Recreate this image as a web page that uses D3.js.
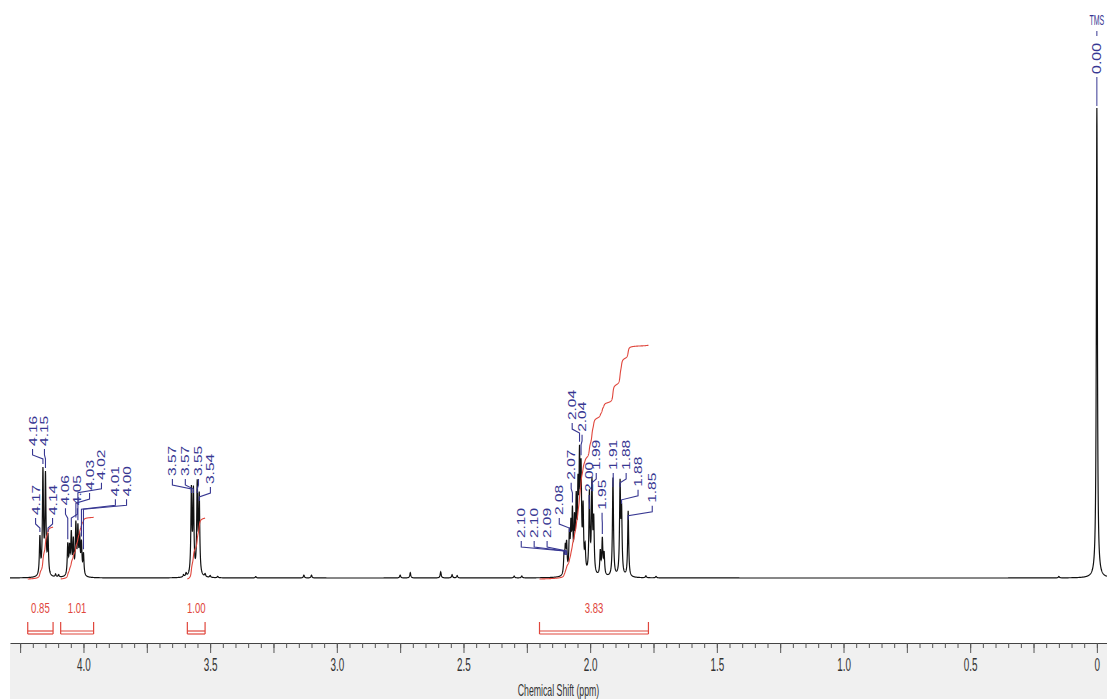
<!DOCTYPE html>
<html>
<head>
<script src="https://cdnjs.cloudflare.com/ajax/libs/d3/7.8.5/d3.min.js"></script>
<style>
	body { margin: 0; background: #fff; }
	text { font-family: "Liberation Sans", Arial, sans-serif; }
</style>
</head>
<body>
<script>

	var width = 1107, height = 699;

	// peak list: shift (ppm) and height (TMS = 100)
	var peakPpm = [4.172, 4.160, 4.150, 4.140, 4.110, 4.098,
		4.062, 4.055, 4.048, 4.040, 4.030, 4.022, 4.015, 4.008, 4.000,
		3.605, 3.595, 3.574, 3.566, 3.551, 3.543, 3.520, 3.500, 3.470,
		3.320, 3.130, 3.100, 2.750, 2.710, 2.590, 2.545, 2.525, 2.300, 2.270,
		2.103, 2.098, 2.093, 2.082, 2.076, 2.070, 2.062, 2.055, 2.048, 2.042, 2.036, 2.028, 2.020,
		2.003, 1.993, 1.986, 1.960, 1.952, 1.945, 1.910, 1.882, 1.876, 1.850,
		1.780, 1.740, 0.150, 0.000];
	var peakHeight = [8, 22, 21, 8, 0.6, 0.5,
		6.5, 5.5, 8.5, 7, 10.5, 9.5, 7.5, 6.5, 4.5,
		0.5, 0.7, 18, 17.5, 19, 16.5, 0.6, 0.4, 0.3,
		0.3, 0.6, 0.6, 0.6, 1.1, 1.3, 0.7, 0.5, 0.4, 0.4,
		4, 5, 6, 8, 9, 12, 10, 14, 16, 22, 20, 13, 5,
		17, 19, 11, 5, 7.5, 4.5, 21, 19, 13, 14,
		0.4, 0.3, 0.3, 100];

	// peak picking labels
	var labelText = ['4.17', '4.16', '4.15', '4.14', '4.06', '4.05', '4.03', '4.02', '4.01', '4.00',
		'3.57', '3.57', '3.55', '3.54',
		'2.10', '2.10', '2.09', '2.08', '2.07', '2.04', '2.04', '2.00', '1.99', '1.95', '1.91', '1.88', '1.88', '1.85'];
	var labelPeak = [4.172, 4.160, 4.150, 4.140, 4.062, 4.048, 4.030, 4.022, 4.008, 4.000,
		3.574, 3.566, 3.551, 3.543,
		2.103, 2.098, 2.093, 2.082, 2.070, 2.042, 2.036, 2.003, 1.993, 1.952, 1.910, 1.882, 1.876, 1.850];
	// where the label text stands (ppm, height of its foot)
	var labelPpm = [4.189, 4.201, 4.154, 4.122, 4.071, 4.024, 3.976, 3.929, 3.874, 3.830,
		3.649, 3.598, 3.546, 3.499,
		2.272, 2.221, 2.170, 2.122, 2.075, 2.071, 2.032, 2.004, 1.976, 1.953, 1.909, 1.858, 1.811, 1.755];
	var labelLevel = [13.4, 28.1, 28.1, 13.4, 15.5, 15.5, 18.7, 20.9, 17.4, 17.4,
		21.7, 21.7, 21.7, 20.0,
		8.5, 8.5, 8.5, 13.4, 20.9, 33.6, 31.1, 18.3, 23.0, 14.5, 23.0, 23.0, 19.4, 16.0];

	// integrals
	var integralFrom  = [4.22, 4.09, 3.59, 2.20];
	var integralTo    = [4.12, 3.96, 3.52, 1.77];
	var integralValue = [0.85, 1.01, 1.00, 3.83];

	// axis
	var majorTicks = [4.25, 4.0, 3.75, 3.5, 3.25, 3.0, 2.75, 2.5, 2.25, 2.0, 1.75, 1.5, 1.25, 1.0, 0.75, 0.5, 0.25, 0];
	var tickLabelValues = [4.0, 3.5, 3.0, 2.5, 2.0, 1.5, 1.0, 0.5, 0];
	var tickLabels = ['4.0', '3.5', '3.0', '2.5', '2.0', '1.5', '1.0', '0.5', '0'];

	/* ---------------------------------------------------------------- */

	var blue = '#373792', red = '#e0463c';
	var axisY = 643;

	var svg = d3.select('body').append('svg')
		.attr('width', width)
		.attr('height', height)
		.style('background-color', 'white');

	var x = d3.scaleLinear().domain([4.29, -0.04]).range([10, 1107]);
	var y = d3.scaleLinear().domain([0, 100]).range([578, 108]);
	var yInt = d3.scaleLinear().domain([0, 1]).range([0, 61]);

	var gamma = 0.0024;
	function intensity(p) {
		var s = 0;
		for (var i = 0; i < peakPpm.length; i++) {
			var d = (p - peakPpm[i]) / gamma;
			s += peakHeight[i] / (1 + d * d);
		}
		return s;
	}

	var spectrum = d3.range(4.29, -0.04, -0.0005).map(function(p) {
		return [p, intensity(p)];
	});

	// grey band under the axis
	svg.append('rect')
		.attr('x', 10).attr('y', axisY)
		.attr('width', width - 10).attr('height', height - axisY)
		.attr('fill', '#f0f0f0');

	// spectrum
	var line = d3.line()
		.x(function(d) { return x(d[0]); })
		.y(function(d) { return y(d[1]); });

	svg.append('path')
		.datum(spectrum)
		.attr('d', line)
		.attr('fill', 'none')
		.attr('stroke', '#111')
		.attr('stroke-width', 1.2);

	// integral curves and brackets
	integralValue.forEach(function(v, k) {
		var pts = spectrum.filter(function(d) {
			return d[0] <= integralFrom[k] && d[0] >= integralTo[k];
		});
		var total = d3.sum(pts, function(d) { return d[1]; });
		var cum = 0;
		var curve = pts.map(function(d) {
			cum += d[1];
			return [x(d[0]), y(0) + 1 - yInt(v * cum / total)];
		});
		svg.append('path')
			.datum(curve)
			.attr('d', d3.line())
			.attr('fill', 'none')
			.attr('stroke', red)
			.attr('stroke-width', 1.1);

		var x0 = x(integralFrom[k]), x1 = x(integralTo[k]);
		var g = svg.append('g').attr('stroke', red).attr('stroke-width', 1.2);
		g.append('line').attr('x1', x0).attr('x2', x1).attr('y1', 631).attr('y2', 631);
		g.append('line').attr('x1', x0).attr('x2', x1).attr('y1', 634).attr('y2', 634);
		g.append('line').attr('x1', x0).attr('x2', x0).attr('y1', 622).attr('y2', 634);
		g.append('line').attr('x1', x1).attr('x2', x1).attr('y1', 622).attr('y2', 634);

		svg.append('text')
			.attr('transform', 'translate(' + ((x0 + x1) / 2) + ',613) scale(0.66,1)')
			.attr('text-anchor', 'middle')
			.attr('font-size', 14.5)
			.attr('fill', red)
			.text(v.toFixed(2));
	});

	// peak labels with their leader lines
	labelText.forEach(function(t, i) {
		var lx = x(labelPpm[i]), ly = y(labelLevel[i]);
		var px = x(labelPeak[i]);
		var top = y(intensity(labelPeak[i]));
		var k1 = ly + 3, k2 = ly + 9, k3 = ly + 13;
		var end = Math.max(k3 + 4, top - 3);

		svg.append('path')
			.attr('d', 'M' + lx + ',' + k1 + 'V' + k2 + 'L' + px + ',' + k3 + 'V' + end)
			.attr('fill', 'none')
			.attr('stroke', blue)
			.attr('stroke-width', 1.1);

		svg.append('text')
			.attr('transform', 'translate(' + (lx + 4) + ',' + ly + ') scale(0.76,1) rotate(-90)')
			.attr('font-size', 15.5)
			.attr('fill', blue)
			.text(t);
	});

	// TMS reference
	var tx = x(0);
	svg.append('text')
		.attr('transform', 'translate(' + tx + ',25) scale(0.5,1)')
		.attr('text-anchor', 'middle')
		.attr('font-size', 14)
		.attr('fill', blue)
		.text('TMS');
	svg.append('line')
		.attr('x1', tx).attr('x2', tx).attr('y1', 31).attr('y2', 36)
		.attr('stroke', blue);
	svg.append('text')
		.attr('transform', 'translate(' + (tx + 4) + ',74) scale(0.76,1) rotate(-90)')
		.attr('font-size', 16)
		.attr('fill', blue)
		.text('0.00');
	svg.append('line')
		.attr('x1', tx).attr('x2', tx).attr('y1', 77).attr('y2', y(intensity(0)) - 2)
		.attr('stroke', blue);

	// axis: minor ticks every 0.05, longer ticks every 0.25
	var minorTicks = d3.range(0, 86).map(function(i) { return +(i * 0.05).toFixed(2); });

	var minorAxis = d3.axisBottom(x)
		.tickValues(minorTicks)
		.tickSize(5)
		.tickSizeOuter(0)
		.tickFormat('');

	var majorAxis = d3.axisBottom(x)
		.tickValues(majorTicks)
		.tickSize(10)
		.tickSizeOuter(0)
		.tickFormat('');

	var labelAxis = d3.axisBottom(x)
		.tickValues(tickLabelValues)
		.tickSize(0)
		.tickSizeOuter(0)
		.tickPadding(15)
		.tickFormat(function(d, i) { return tickLabels[i]; });

	var gMinor = svg.append('g').attr('transform', 'translate(0,' + axisY + ')').call(minorAxis);
	var gMajor = svg.append('g').attr('transform', 'translate(0,' + axisY + ')').call(majorAxis);
	var gLab = svg.append('g').attr('transform', 'translate(0,' + axisY + ')').call(labelAxis);

	gMinor.select('.domain').attr('stroke', '#444');
	gMajor.select('.domain').remove();
	gLab.select('.domain').remove();
	svg.selectAll('.tick line').attr('stroke', '#555');

	gLab.selectAll('text')
		.attr('font-family', '"Liberation Sans", Arial, sans-serif')
		.attr('font-size', 18)
		.attr('fill', '#333')
		.attr('transform', 'scale(0.55,1)');

	svg.append('text')
		.attr('transform', 'translate(' + ((10 + width) / 2) + ',696) scale(0.53,1)')
		.attr('text-anchor', 'middle')
		.attr('font-size', 16.5)
		.attr('fill', '#333')
		.text('Chemical Shift (ppm)');

</script>
</body>
</html>
